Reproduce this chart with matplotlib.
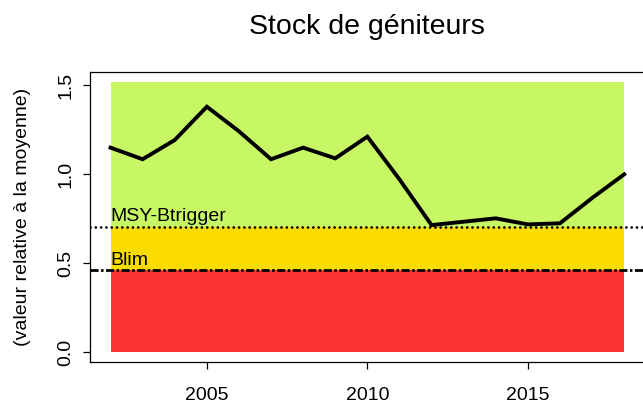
import matplotlib
matplotlib.use("Agg")
import matplotlib.pyplot as plt

years = [2002, 2003, 2004, 2005, 2006, 2007, 2008, 2009, 2010,
         2011, 2012, 2013, 2014, 2015, 2016, 2017, 2018]
ssb = [1.148, 1.083, 1.191, 1.378, 1.24, 1.083, 1.148, 1.088, 1.21,
       0.97, 0.713, 0.732, 0.751, 0.717, 0.723, 0.865, 0.998]
msy_btrigger = 0.70
blim = 0.46
zone_top = 1.1 * max(ssb)

title = "Stock de géniteurs"
ylabel = "(valeur relative à la moyenne)"
xticks = [2005, 2010, 2015]
yticks = [0.0, 0.5, 1.0, 1.5]

plt.rcParams['font.family'] = ['Liberation Sans', 'DejaVu Sans']

W, H = 643, 408
fig = plt.figure(figsize=(W / 100, H / 100), dpi=100)
left_px, right_px, top_px, bottom_px = 90, 644.7, 72, 362
ax = fig.add_axes([left_px / W, 1 - bottom_px / H,
                   (right_px - left_px) / W, (bottom_px - top_px) / H])

x0, x1 = years[0], years[-1]
ax.fill_between([x0, x1], 0, blim, color='#fa3434', lw=0, zorder=1)
ax.fill_between([x0, x1], blim, msy_btrigger, color='#fadc00', lw=0, zorder=1)
ax.fill_between([x0, x1], msy_btrigger, zone_top, color='#c8f766', lw=0, zorder=1)

ax.axhline(msy_btrigger, color='black', lw=2.0, linestyle=(0, (0.01, 1.9)),
           dash_capstyle='round', zorder=3)
ax.axhline(blim, color='black', lw=2.0, linestyle=(0, (2.9, 0.9, 0.9, 0.9)),
           dash_capstyle='butt', zorder=3)

ax.plot(years, ssb, color='black', lw=2.8, solid_joinstyle='miter', zorder=4)

ax.text(x0 - 0.02, msy_btrigger + 0.034, "MSY-Btrigger", fontsize=14,
        ha='left', va='baseline', zorder=5)
ax.text(x0 - 0.02, blim + 0.03, "Blim", fontsize=14,
        ha='left', va='baseline', zorder=5)

span = x1 - x0
ax.set_xlim(x0 - 0.04 * span, x1 + 0.04 * span)
ax.set_ylim(-0.056, 1.573)
ax.set_xticks(xticks)
ax.set_xticklabels([str(t) for t in xticks])
ax.set_yticks(yticks)
ax.set_yticklabels([f"{t:.1f}" for t in yticks], rotation=90, va='center')

for s in ax.spines.values():
    s.set_linewidth(0.9)
    s.set_color('black')

ax.tick_params(axis='both', direction='out', length=5, width=0.9,
               labelsize=14, colors='black')
ax.tick_params(axis='x', pad=13)
ax.tick_params(axis='y', pad=6.5)

ax.set_title(title, fontsize=20.5, pad=27)
fig.text(23 / W, 1 - 217 / H, ylabel, rotation=90, fontsize=14,
         ha='center', va='center')

fig.savefig("out.png", dpi=100)
